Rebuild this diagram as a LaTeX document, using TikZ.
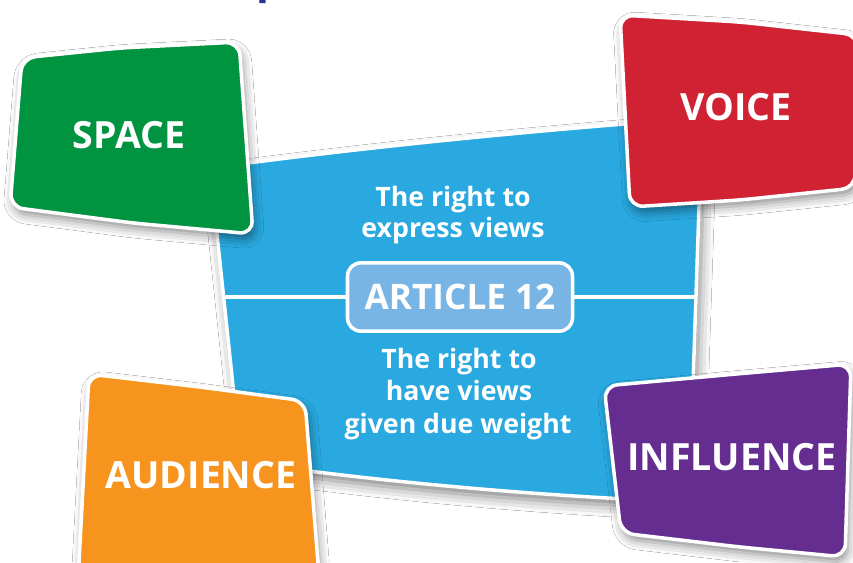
\documentclass[tikz,border=0pt]{standalone}
\usepackage{fontspec}
\setmainfont{Open Sans}
\usetikzlibrary{shadows.blur}
\definecolor{cgreen}{HTML}{009340}
\definecolor{cred}{HTML}{D12234}
\definecolor{corange}{HTML}{F7941E}
\definecolor{cpurple}{HTML}{662D91}
\definecolor{cblue}{HTML}{29A9E0}
\definecolor{cart}{HTML}{78B5E4}
\definecolor{cnavy}{HTML}{2E3192}
\begin{document}
\begin{tikzpicture}[x=0.03cm,y=-0.03cm,
  panel/.style={draw=white, line width=3pt, line join=round, rounded corners=0.4cm,
    blur shadow={shadow xshift=2pt, shadow yshift=-5pt, shadow blur radius=8pt, shadow opacity=45}},
  sheet/.style={draw=white, line width=3pt, line join=round, fill=cblue,
    blur shadow={shadow xshift=3pt, shadow yshift=-6pt, shadow blur radius=10pt, shadow opacity=50}},
  biglabel/.style={text=white, font=\bfseries\fontsize{32}{36}\selectfont, anchor=base},
  bodytext/.style={text=white, font=\bfseries\fontsize{22.8}{27}\selectfont, anchor=base},
  artbox/.style={draw=white, line width=3pt, fill=cart, rounded corners=0.4cm,
    minimum width=6.75cm, minimum height=2.05cm, text=white,
    font=\bfseries\fontsize{30}{34}\selectfont},
  sepline/.style={draw=white, line width=3pt}
]
\useasboundingbox (0,0) rectangle (853,562);
\fill[white] (0,0) rectangle (853,562);

% partial heading letter cut by the top edge
\begin{scope}
\clip (0,0) rectangle (853,562);
\node[text=cnavy, font=\bfseries\fontsize{36}{40}\selectfont, anchor=base west, inner sep=0pt] (ptop) at (256,-6.5) {p};
\end{scope}

% central blue sheet
\path[sheet] (210,168) .. controls (374,146) and (538,130) .. (702,118)
  -- (689,502) .. controls (540,496) and (390,483) .. (241,462) -- cycle;

\coordinate (sepL) at (224,297);
\coordinate (sepR) at (696,297);
\node[artbox] (art) at (460,297) {ARTICLE 12};
\draw[sepline] (sepL) -- (art.west);
\draw[sepline] (art.east) -- (sepR);

\node[bodytext] (u1) at (453,206) {The right to};
\node[bodytext] (u2) at (453,237) {express views};
\node[bodytext] (l1) at (459,368) {The right to};
\node[bodytext] (l2) at (459,400) {have views};
\node[bodytext] (l3) at (458,433) {given due weight};

% coloured panels
\path[panel, fill=cgreen] (22,58) -- (120,48) -- (239,42) -- (253,234) -- (133,223) -- (10,207) -- cycle;
\node[biglabel] (space) at (129,148) {SPACE};

\path[panel, fill=cred] (620,15) -- (740,22) -- (858,35) -- (855,188) -- (740,200) -- (630,207) -- cycle;
\node[biglabel] (voice) at (736,120) {VOICE};

\path[panel, fill=corange] (89,374) -- (200,387) -- (305,401) -- (321,600) -- (77,600) -- cycle;
\node[biglabel] (audience) at (201,488) {AUDIENCE};

\path[panel, fill=cpurple] (604,386) -- (725,375) -- (851,364) -- (845,557) -- (740,547) -- (621,533) -- cycle;
\node[biglabel] (influence) at (732,470) {INFLUENCE};
\end{tikzpicture}
\end{document}
